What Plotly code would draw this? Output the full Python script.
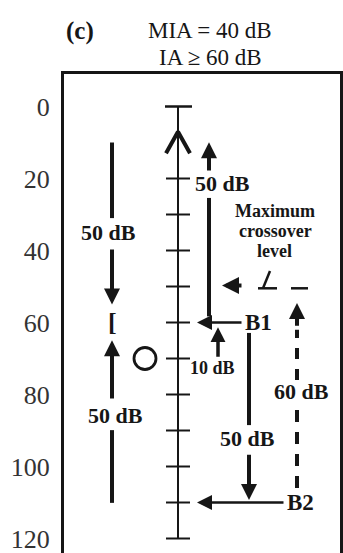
import plotly.graph_objects as go

# ---------------- data (dB HL) ----------------
y_tick_vals = [0, 20, 40, 60, 80, 100, 120]
y_tick_text = ["0", "20", "40", "60", "80", "100", "120"]
scale_ticks = [20, 30, 40, 50, 60, 70, 80, 90, 100, 110, 120]
scale_range = [0, 120]

title_lines = ["MIA = 40 dB", "IA ≥ 60 dB"]
panel_label = "(c)"

ac_threshold = 70          # open circle
masked_bc = 60             # "[" symbol
b1_level = 60
b2_level = 110
crossover_level = 50

# left column: upper arrow (down) 10 -> 55, lower arrow (up) 110 -> 65
left_down = [10, 31, 35, 39.3, 55]     # start, break, label, resume, tip
left_up = [110.1, 89.9, 85.7, 81.5, 64.9]
# right: B1 masker raised 50 dB (up), tip at 10
b1_up = [58.3, 25.4, 21.3, 18.2, 9.9]
# 10 dB step from 70 to 61
step10 = [69.9, 72.6, 61.3]
# B1 -> B2 (down 50 dB)
b1_down = [62.9, 88.5, 92.1, 96.3, 109.3]
# IA 60 dB dashed from B2 up to crossover
ia_dash = [106, 83, 79.3, 76, 62, 61.3, 54.6]
labels_50 = "50 dB"

# ---------------- layout constants (px) ----------------
W, H = 343, 553
L, R, T, B = 64, 3, 74, 0
PX_PER_DB = 3.6
Y0 = 106.5
def db_at(py):
    return (py - Y0) / PX_PER_DB
y_range = [db_at(H), db_at(T)]

X_AXIS = 178
X_LEFT = 112
X_CIRC = 145
X_B1UP = 209
X_10 = 218
X_B1DN = 249
X_DASH = 297

INK = "#161616"
FONT = "Liberation Serif"

fig = go.Figure()

def seg(x0, y0, x1, y1, w=2, dash=None):
    fig.add_trace(go.Scatter(x=[x0, x1], y=[y0, y1], mode="lines",
                             line=dict(color=INK, width=w, dash=dash),
                             hoverinfo="skip", showlegend=False))

annotations = []
def arrow(x_tail, y_tail, x_tip, y_tip, w=4, size=0.8, head=2):
    annotations.append(dict(x=x_tip, y=y_tip, ax=x_tail, ay=y_tail, xref="x", yref="y",
                            axref="x", ayref="y", text="", showarrow=True,
                            arrowhead=head, arrowsize=size, arrowwidth=w,
                            arrowcolor=INK, standoff=0, startstandoff=0))

def label(x, y, text, size=20, bold=True, xanchor="center"):
    t = f"<b>{text}</b>" if bold else text
    annotations.append(dict(x=x, y=y, xref="x", yref="y", text=t, showarrow=False,
                            xanchor=xanchor, yanchor="middle",
                            font=dict(family=FONT, size=size, color=INK)))

# central scale
seg(X_AXIS, scale_range[0], X_AXIS, scale_range[1], w=2)
seg(X_AXIS - 13, scale_range[0], X_AXIS + 14, scale_range[0], w=2.5)
for t in scale_ticks:
    seg(X_AXIS - 12, t, X_AXIS + 12, t, w=2)
# chevron near top of scale
fig.add_trace(go.Scatter(x=[X_AXIS - 12, X_AXIS, X_AXIS + 12],
                         y=[scale_range[0] + 13, scale_range[0] + 7, scale_range[0] + 13],
                         mode="lines", line=dict(color=INK, width=4),
                         hoverinfo="skip", showlegend=False))

# left column
seg(X_LEFT, left_down[0], X_LEFT, left_down[1], w=4)
label(X_LEFT - 4, left_down[2], labels_50, size=22)
arrow(X_LEFT, left_down[3], X_LEFT, left_down[4], w=4, size=0.8)
arrow(X_LEFT, left_up[3], X_LEFT, left_up[4], w=4, size=0.8)
label(X_LEFT + 3, left_up[2], labels_50, size=22)
seg(X_LEFT, left_up[1], X_LEFT, left_up[0], w=4)
label(X_LEFT, masked_bc, "[", size=26)

# AC threshold circle
fig.add_trace(go.Scatter(x=[X_CIRC], y=[ac_threshold], mode="markers",
                         marker=dict(symbol="circle-open", size=22, color=INK,
                                     line=dict(width=2.8, color=INK)),
                         hoverinfo="skip", showlegend=False))

# right: B1 raised 50 dB
seg(X_B1UP, b1_up[0], X_B1UP, b1_up[1], w=4)
label(X_B1UP + 13, b1_up[2], labels_50, size=22)
arrow(X_B1UP, b1_up[3], X_B1UP, b1_up[4], w=4, size=0.8)

# B1 horizontal arrow
arrow(243, b1_level, 197, b1_level, w=2.5, size=1.2)
label(243, b1_level, "B1", size=23, xanchor="left")

# 10 dB step
arrow(X_10, step10[0], X_10, step10[2], w=3.5, size=0.85)
label(X_10 - 6, step10[1], "10 dB", size=18)

# B1 down to B2
seg(X_B1DN, b1_down[0], X_B1DN, b1_down[1], w=4)
label(X_B1DN - 2, b1_down[2], labels_50, size=22)
arrow(X_B1DN, b1_down[3], X_B1DN, b1_down[4], w=4, size=0.8)

# B2 horizontal arrow
arrow(285, b2_level, 197, b2_level, w=2.5, size=1.2)
label(285, b2_level, "B2", size=23, xanchor="left")

# IA dashed
seg(X_DASH, ia_dash[0], X_DASH, ia_dash[1], w=4, dash="12px,10px")
label(X_DASH + 4, ia_dash[2], "60 dB", size=22)
seg(X_DASH, ia_dash[3], X_DASH, ia_dash[4], w=4, dash="11px,10px")
arrow(X_DASH, ia_dash[5], X_DASH, ia_dash[6], w=4, size=0.8)

# crossover level markers
seg(291, crossover_level + 0.5, 308, crossover_level + 0.5, w=2.5)
seg(258, crossover_level + 0.5, 277, crossover_level + 0.5, w=2.5)
seg(263, crossover_level + 0.5, 270, crossover_level - 4.3, w=2.5)
arrow(243, crossover_level - 0.3, 222, crossover_level - 0.3, w=4, size=0.85)
label(275, db_at(211), "Maximum", size=18)
label(275, db_at(231), "crossover", size=18)
label(274, db_at(251), "level", size=18)

# title
def paper_y(py):
    return (H - B - py) / (H - T - B)
annotations.append(dict(x=80, y=paper_y(31), xref="x", yref="paper", text=f"<b>{panel_label}</b>",
                        showarrow=False, xanchor="center", yanchor="middle",
                        font=dict(family=FONT, size=25, color=INK)))
annotations.append(dict(x=210, y=paper_y(30), xref="x", yref="paper", text=title_lines[0],
                        showarrow=False, xanchor="center", yanchor="middle",
                        font=dict(family=FONT, size=23, color=INK)))
annotations.append(dict(x=210, y=paper_y(57), xref="x", yref="paper", text=title_lines[1],
                        showarrow=False, xanchor="center", yanchor="middle",
                        font=dict(family=FONT, size=23, color=INK)))

fig.update_layout(
    width=W, height=H, margin=dict(l=L, r=R, t=T, b=B),
    paper_bgcolor="white", plot_bgcolor="white",
    annotations=annotations, showlegend=False,
    xaxis=dict(range=[L, W - R], side="top", showline=True, linecolor=INK, linewidth=3,
               showgrid=False, zeroline=False, showticklabels=False, ticks="", fixedrange=True),
    yaxis=dict(range=y_range, showline=True, mirror=True, linecolor=INK, linewidth=3,
               showgrid=False, zeroline=False, tickmode="array", tickvals=y_tick_vals,
               ticktext=y_tick_text, ticks="", ticklabelstandoff=6, ticklabeloverflow="allow",
               tickfont=dict(family=FONT, size=26, color="#333333"), fixedrange=True),
)

fig.write_html("out.html", config={"displayModeBar": False})
